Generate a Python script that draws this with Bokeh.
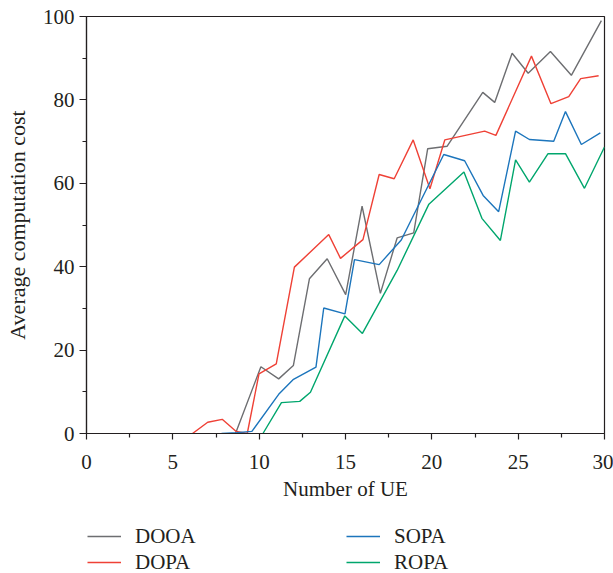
from bokeh.plotting import figure
from bokeh.layouts import column
from bokeh.models import Range1d, FixedTicker, Legend, LegendItem
from bokeh.embed import file_html
from bokeh.resources import INLINE

# ---- data ----
dooa_x = [8.63, 10.10, 11.13, 11.98, 12.91, 13.94, 15.01, 15.96, 17.02, 17.99, 18.95,
          19.76, 20.89, 22.95, 23.64, 24.65, 25.58, 26.87, 28.08, 29.82]
dooa_y = [0.0, 16.0, 13.1, 16.3, 37.1, 41.9, 33.3, 54.5, 33.6, 46.9, 48.1,
          68.3, 68.9, 81.8, 79.4, 91.2, 86.4, 91.6, 85.9, 99.0]

dopa_x = [6.14, 7.02, 7.86, 8.67, 9.31, 9.99, 10.99, 12.04, 14.03, 14.71, 16.01, 16.95,
          17.82, 18.92, 19.89, 20.75, 23.06, 23.71, 25.77, 26.90, 27.93, 28.62, 29.66]
dopa_y = [0.0, 2.7, 3.4, 0.5, 0.0, 14.3, 16.7, 39.9, 47.7, 42.0, 46.5, 62.1,
          61.1, 70.4, 58.7, 70.4, 72.5, 71.5, 90.5, 79.1, 80.8, 85.1, 85.8]

sopa_x = [7.82, 8.71, 9.58, 11.13, 11.96, 13.29, 13.74, 14.97, 15.52, 16.95, 18.23,
          20.69, 21.90, 22.97, 23.87, 24.85, 25.65, 27.06, 27.74, 28.66, 29.76]
sopa_y = [0.0, 0.2, 0.5, 9.4, 12.9, 15.9, 30.1, 28.7, 41.7, 40.5, 46.4,
          66.9, 65.4, 57.1, 53.2, 72.5, 70.5, 70.1, 77.2, 69.3, 72.1]

ropa_x = [10.22, 11.29, 12.35, 12.97, 14.96, 15.98, 17.99, 19.83, 21.86, 22.90, 23.97,
          24.85, 25.65, 26.73, 27.74, 28.84, 30.0]
ropa_y = [0.0, 7.4, 7.7, 9.9, 28.2, 24.0, 39.1, 55.0, 62.7, 51.6, 46.3,
          65.6, 60.3, 67.1, 67.1, 58.8, 68.7]

series_names = ["DOOA", "DOPA", "SOPA", "ROPA"]
x_ticks = [0, 5, 10, 15, 20, 25, 30]
x_minor = [2.5, 7.5, 12.5, 17.5, 22.5, 27.5]
y_ticks = [0, 20, 40, 60, 80, 100]
y_minor = [10, 30, 50, 70, 90]

series_x = [dooa_x, dopa_x, sopa_x, ropa_x]
series_y = [dooa_y, dopa_y, sopa_y, ropa_y]
colors = ["#6d6e71", "#ef4136", "#1c75bc", "#00a66d"]
FONT = "Liberation Serif"
AXC = "#231f20"

# ---------------- main chart ----------------
p = figure(width=613, height=520, output_backend="svg", toolbar_location=None,
           x_range=Range1d(0, 30), y_range=Range1d(0, 100),
           min_border_left=86, min_border_right=9, min_border_top=16,
           min_border_bottom=87)
p.grid.visible = False
p.outline_line_color = AXC
p.outline_line_width = 1.2
p.background_fill_color = "white"
p.border_fill_color = "white"

for xs, ys, c in zip(series_x, series_y, colors):
    p.line(xs, ys, line_color=c, line_width=1.4)

for ax in (p.xaxis[0], p.yaxis[0]):
    ax.axis_line_color = AXC
    ax.axis_line_width = 1.2
    ax.major_tick_line_color = AXC
    ax.minor_tick_line_color = AXC
    ax.major_tick_line_width = 1.2
    ax.minor_tick_line_width = 1.2
    ax.major_tick_in = 0
    ax.minor_tick_in = 0
    ax.major_label_text_font = FONT
    ax.major_label_text_font_size = "21px"
    ax.major_label_text_color = AXC
    ax.axis_label_text_font = FONT
    ax.axis_label_text_font_style = "normal"
    ax.axis_label_text_color = AXC

p.xaxis.axis_label_text_font_size = "21px"
p.yaxis.axis_label_text_font_size = "22px"
p.xaxis.ticker = FixedTicker(ticks=x_ticks, minor_ticks=x_minor)
p.yaxis.ticker = FixedTicker(ticks=y_ticks, minor_ticks=y_minor)
p.xaxis.major_tick_out = 6
p.xaxis.minor_tick_out = 4
p.yaxis.major_tick_out = 7
p.yaxis.minor_tick_out = 4
p.xaxis.major_label_standoff = 15
p.yaxis.major_label_standoff = 5
p.xaxis.axis_label = "Number of UE"
p.yaxis.axis_label = "Average computation cost"
p.xaxis.axis_label_standoff = 5
p.yaxis.axis_label_standoff = 10

# ---------------- legend strip ----------------
# the strip's x range (0..1) lies outside the data, so these proxy lines stay invisible
lf = figure(width=613, height=53, output_backend="svg", toolbar_location=None,
            x_axis_type=None, y_axis_type=None,
            x_range=Range1d(0, 1), y_range=Range1d(0, 1),
            min_border=0, outline_line_color=None)
lf.grid.visible = False
lr = [lf.line(xs, ys, line_color=c, line_width=1.4)
      for xs, ys, c in zip(series_x, series_y, colors)]

def make_legend(idx, loc):
    return Legend(items=[LegendItem(label=series_names[i], renderers=[lr[i]]) for i in idx],
                  location=loc, orientation="vertical",
                  border_line_alpha=0, background_fill_alpha=0,
                  padding=0, margin=0, spacing=0,
                  glyph_width=34, glyph_height=26, label_height=26,
                  label_standoff=14,
                  label_text_font=FONT, label_text_font_size="21px",
                  label_text_color=AXC)

lf.add_layout(make_legend([0, 1], (1, -2)), "center")
lf.add_layout(make_legend([2, 3], (260, -2)), "center")

layout = column(p, lf, spacing=0)
open("out.html", "w").write(file_html(layout, INLINE))
